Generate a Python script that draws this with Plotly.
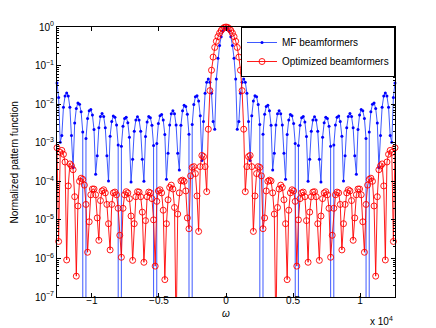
import numpy as np
import plotly.graph_objects as go

# sample grid (rad/s), 211 points as in the original sweep
omega = np.linspace(-12600, 12600, 211)

# log10 of normalized pattern (k = -105 .. 105)
# -200 stands for an exact null (drawn as a vertical drop)
mf_log10 = [
    -1.45, -1.83, -2.99, -2.81, -2.08, -1.79, -1.71, -1.79, -2.08, -2.81,
    -3.65, -2.49, -2.11, -1.97, -2.00, -2.20, -2.72, -200,
    -2.89, -2.37, -2.17, -2.14, -2.28, -2.66, -3.82,
    -3.34, -2.61, -2.32, -2.24, -2.32, -2.61, -3.34,
    -3.99, -2.83, -2.45, -2.31, -2.34, -2.54, -3.06, -200,
    -3.09, -2.57, -2.37, -2.34, -2.48, -2.86, -4.02,
    -3.43, -2.70, -2.41, -2.33, -2.41, -2.70, -3.43,
    -4.00, -2.84, -2.46, -2.32, -2.35, -2.55, -3.07, -200,
    -3.02, -2.50, -2.30, -2.27, -2.41, -2.79, -3.95,
    -3.27, -2.54, -2.25, -2.17, -2.25, -2.54, -3.27,
    -3.71, -2.55, -2.17, -2.03, -2.06, -2.26, -2.78, -200,
    -2.53, -2.01, -1.81, -1.78, -1.92, -2.30, -3.46,
    -2.45, -1.72, -1.43, -1.35, -1.43, -1.72, -2.45,
    -2.65, -1.35, -0.81, -0.48, -0.25, -0.11, -0.03,
    0.0,
    -0.03, -0.11, -0.25, -0.48, -0.81, -1.35, -2.65,
    -2.45, -1.72, -1.43, -1.35, -1.43, -1.72, -2.45,
    -3.46, -2.30, -1.92, -1.78, -1.81, -2.01, -2.53,
    -200, -2.78, -2.26, -2.06, -2.03, -2.17, -2.55, -3.71,
    -3.27, -2.54, -2.25, -2.17, -2.25, -2.54, -3.27,
    -3.95, -2.79, -2.41, -2.27, -2.30, -2.50, -3.02,
    -200, -3.07, -2.55, -2.35, -2.32, -2.46, -2.84, -4.00,
    -3.43, -2.70, -2.41, -2.33, -2.41, -2.70, -3.43,
    -4.02, -2.86, -2.48, -2.34, -2.37, -2.57, -3.09,
    -200, -3.06, -2.54, -2.34, -2.31, -2.45, -2.83, -3.99,
    -3.34, -2.61, -2.32, -2.24, -2.32, -2.61, -3.34,
    -3.82, -2.66, -2.28, -2.14, -2.17, -2.37, -2.89,
    -200, -2.72, -2.20, -2.00, -1.97, -2.11, -2.49, -3.65,
    -2.81, -2.08, -1.79, -1.71, -1.79, -2.08, -2.81, -2.99, -1.83, -1.45,
]

opt_log10 = [
    -3.13, -5.56, -3.25, -3.20, -3.30, -3.50,
    -6.04, -4.12, -3.55, -3.60, -3.70, -4.40,
    -6.46, -4.64, -4.00, -3.92, -3.95, -4.10, -4.60,
    -5.84, -5.05, -4.35, -4.20, -4.20, -4.35, -4.95,
    -5.53, -4.50, -4.25, -4.22, -4.30, -4.60, -5.10,
    -5.78, -4.60, -4.30, -4.28, -4.35, -4.70, -5.40,
    -5.97, -4.70, -4.35, -4.27, -4.30, -4.45, -4.90,
    -6.05, -5.10, -4.40, -4.27, -4.28, -4.40, -4.80,
    -6.10, -5.02, -4.40, -4.28, -4.30, -4.45, -5.00,
    -6.20, -4.52, -4.25, -4.22, -4.30, -4.75,
    -6.55, -5.10, -4.48, -4.16, -4.10, -4.20, -4.68,
    -8.00, -4.85, -4.30, -3.99, -3.97, -4.00, -4.25, -4.95, -5.23,
    -3.86, -3.64, -3.62, -3.80, -4.38, -5.30, -3.62, -3.33, -3.36, -3.62, -4.27,
    -2.65, -1.65, -1.12, -0.78, -0.53, -0.37, -0.25, -0.16, -0.09, -0.04, -0.01,
    0.0,
    -0.01, -0.04, -0.09, -0.16, -0.25, -0.37, -0.53, -0.78, -1.12, -1.65, -2.65,
    -4.27, -3.62, -3.36, -3.33, -3.62, -5.30, -4.38, -3.80, -3.62, -3.64, -3.86,
    -5.23, -4.95, -4.25, -4.00, -3.97, -3.99, -4.30, -4.85, -8.00,
    -4.68, -4.20, -4.10, -4.16, -4.48, -5.10, -6.55,
    -4.75, -4.30, -4.22, -4.25, -4.52, -6.20,
    -5.00, -4.45, -4.30, -4.28, -4.40, -5.02, -6.10,
    -4.80, -4.40, -4.28, -4.27, -4.40, -5.10, -6.05,
    -4.90, -4.45, -4.30, -4.27, -4.35, -4.70, -5.97,
    -5.40, -4.70, -4.35, -4.28, -4.30, -4.60, -5.78,
    -5.10, -4.60, -4.30, -4.22, -4.25, -4.50, -5.53,
    -4.95, -4.35, -4.20, -4.20, -4.35, -5.05, -5.84,
    -4.60, -4.10, -3.95, -3.92, -4.00, -4.64, -6.46,
    -4.40, -3.70, -3.60, -3.55, -4.12, -6.04,
    -3.50, -3.30, -3.20, -3.25, -5.56, -3.13,
]

x_ticks = [-10000, -5000, 0, 5000, 10000]
x_labels = ["\u22121", "\u22120.5", "0", "0.5", "1"]
y_exps = [-7, -6, -5, -4, -3, -2, -1, 0]

mf = 10.0 ** np.array(mf_log10)
opt = 10.0 ** np.array(opt_log10)

font = "Liberation Sans, Arial, Helvetica, sans-serif"

fig = go.Figure()
fig.add_trace(go.Scatter(
    x=omega, y=mf, name="MF beamformers", mode="lines+markers",
    line=dict(color="rgb(40,70,255)", width=0.9),
    marker=dict(symbol="circle", size=3, color="rgb(0,0,255)"),
    cliponaxis=False,
))
fig.add_trace(go.Scatter(
    x=omega, y=opt, name="Optimized beamformers", mode="lines+markers",
    line=dict(color="rgb(255,0,0)", width=0.9),
    marker=dict(symbol="circle-open", size=6, color="rgb(255,0,0)", line=dict(width=0.9)),
    cliponaxis=False,
))

minor_vals = [m * 10.0 ** e for e in range(-7, 0) for m in range(2, 10)]

fig.update_xaxes(
    range=[-12600, 12600], tickvals=x_ticks, ticktext=x_labels,
    ticks="inside", ticklen=4, tickcolor="black", showline=True, linecolor="black",
    linewidth=1, mirror="ticks", showgrid=False, zeroline=False,
    tickfont=dict(size=10, color="black", family=font), ticklabelstandoff=-6,
)
fig.update_yaxes(
    type="log", range=[-7, 0],
    tickvals=[10.0 ** e for e in y_exps],
    ticktext=["10<sup>%s</sup>" % (str(e).replace("-", "\u2212")) for e in y_exps],
    ticks="inside", ticklen=4, tickcolor="black", showline=True, linecolor="black",
    linewidth=1, mirror="ticks", showgrid=False, zeroline=False,
    tickfont=dict(size=10, color="black", family=font),
    minor=dict(tickmode="array", tickvals=minor_vals, ticks="inside", ticklen=2,
               tickcolor="black", showgrid=False),
)

# page body has an 8px margin, so the figure is 8px smaller and shifted
fig.update_layout(
    width=428, height=320,
    margin=dict(l=49, r=41, t=16, b=31),
    paper_bgcolor="white", plot_bgcolor="white",
    font=dict(family=font, size=10, color="black"),
    showlegend=True,
    legend=dict(x=1, y=1, xanchor="right", yanchor="top",
                bgcolor="white", bordercolor="black", borderwidth=1,
                font=dict(size=10, family=font), tracegroupgap=0),
    annotations=[
        dict(text="<i>\u03c9</i>", xref="paper", yref="paper", x=0.5, y=-0.06,
             showarrow=False, font=dict(size=10), yanchor="middle"),
        dict(text="x 10<sup>4</sup>", xref="paper", yref="paper", x=1.0, y=-0.09,
             showarrow=False, font=dict(size=10), xanchor="right", yanchor="middle"),
        dict(text="Normalized pattern function", xref="paper", yref="paper",
             x=-0.126, y=0.5, textangle=-90, showarrow=False, font=dict(size=10),
             xanchor="center", yanchor="middle"),
    ],
)

fig.write_html("out.html")
